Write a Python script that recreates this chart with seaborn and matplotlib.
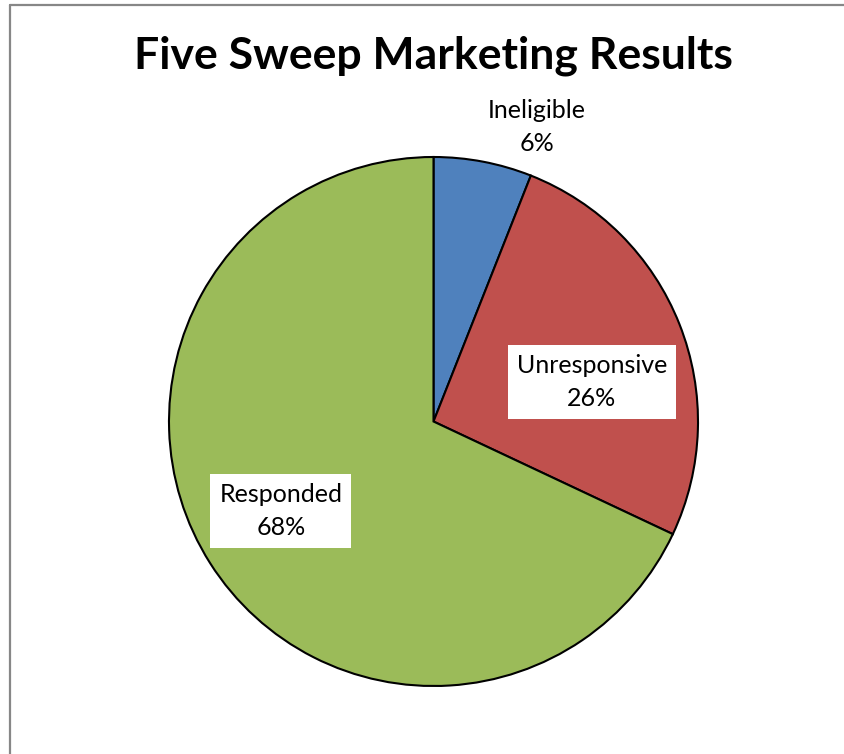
import matplotlib
matplotlib.use("Agg")
import matplotlib.pyplot as plt
from matplotlib.lines import Line2D
import seaborn as sns

# Survey outcome shares (percent)
categories = ["Ineligible", "Unresponsive", "Responded"]
shares = [6, 26, 68]
slice_colors = ["#4F81BD", "#C0504D", "#9BBB59"]
chart_title = "Five Sweep Marketing Results"

sns.set_theme(style="white")
plt.rcParams["font.family"] = ["Lato", "DejaVu Sans"]

W, H = 845, 754
fig = plt.figure(figsize=(W / 100, H / 100), dpi=100)
fig.patch.set_facecolor("white")

# Pie occupies a square region centred under the title
cx, cy, r = 433.5, 421.5, 264.5
ax = fig.add_axes([(cx - r) / W, (H - cy - r) / H, 2 * r / W, 2 * r / H])
wedges, _ = ax.pie(
    shares,
    colors=slice_colors,
    startangle=90,
    counterclock=False,
    radius=1.0,
    wedgeprops=dict(edgecolor="black", linewidth=1.5),
)
ax.set_xlim(-1, 1)
ax.set_ylim(-1, 1)
ax.set_aspect("equal")
ax.axis("off")

# Data labels: category name and percentage
label_pos = {
    "Ineligible": (0.391, 1.113, False),
    "Unresponsive": (0.599, 0.149, True),
    "Responded": (-0.577, -0.338, True),
}
for name, val in zip(categories, shares):
    x, y, boxed = label_pos[name]
    kw = dict(ha="center", va="center", fontsize=18, color="black",
              linespacing=1.55, clip_on=False)
    if boxed:
        kw["bbox"] = dict(boxstyle="square,pad=0.36", facecolor="white",
                          edgecolor="none")
    ax.text(x, y, f"{name}\n{val}%", **kw)

fig.text(433 / W, 1 - 56 / H, chart_title, ha="center", va="center",
         fontsize=32, fontweight="bold", color="black")

# Chart-area border (left and top edges)
fig.add_artist(Line2D([10 / W, 10 / W], [0, 1 - 5 / H],
                      transform=fig.transFigure, color="#878787", linewidth=1.6))
fig.add_artist(Line2D([10 / W, 1], [1 - 5 / H, 1 - 5 / H],
                      transform=fig.transFigure, color="#878787", linewidth=1.6))

fig.savefig("out.png", dpi=100, facecolor="white")
